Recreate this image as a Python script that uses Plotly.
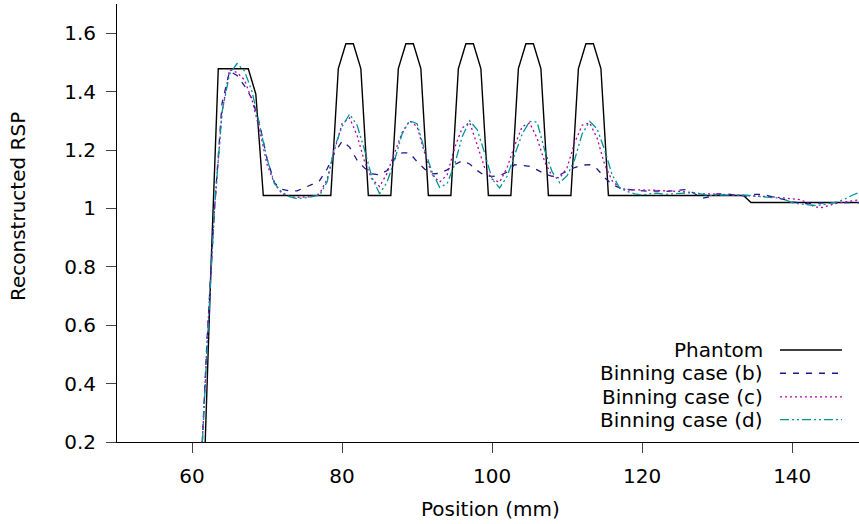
import plotly.graph_objects as go

# ---------------- data ----------------
x_phantom = [59.5, 60.5, 61.5, 62.5, 63.5, 64.5, 65.5, 66.5, 67.5, 68.5, 69.5,
             70.5, 71.5, 72.5, 73.5, 74.5, 75.5, 76.5, 77.5, 78.5, 79.5,
             80.5, 81.5, 82.5, 83.5, 84.5, 85.5, 86.5, 87.5, 88.5, 89.5,
             90.5, 91.5, 92.5, 93.5, 94.5, 95.5, 96.5, 97.5, 98.5, 99.5,
             100.5, 101.5, 102.5, 103.5, 104.5, 105.5, 106.5, 107.5, 108.5, 109.5,
             110.5, 111.5, 112.5, 113.5, 114.5, 115.5, 116.5, 117.5, 118.5, 119.5,
             120.5, 121.5, 122.5, 123.5, 124.5, 125.5, 126.5, 127.5, 128.5, 129.5,
             130.5, 131.5, 132.5, 133.5, 134.5, 135.5, 136.5, 137.5, 138.5, 139.5,
             140.5, 141.5, 142.5, 143.5, 144.5, 145.5, 146.5, 147.5, 148.5, 149.5]
phantom = [0.0, 0.0, 0.0, 0.78, 1.478, 1.478, 1.478, 1.478, 1.478, 1.392, 1.044,
           1.044, 1.044, 1.044, 1.044, 1.044, 1.044, 1.044, 1.044, 1.044, 1.479,
           1.564, 1.564, 1.479, 1.044, 1.044, 1.044, 1.044, 1.479, 1.564, 1.564,
           1.479, 1.044, 1.044, 1.044, 1.044, 1.479, 1.564, 1.564, 1.479, 1.044,
           1.044, 1.044, 1.044, 1.479, 1.564, 1.564, 1.479, 1.044, 1.044, 1.044,
           1.044, 1.479, 1.564, 1.564, 1.479, 1.044, 1.044, 1.044, 1.044, 1.044,
           1.044, 1.044, 1.044, 1.044, 1.044, 1.044, 1.044, 1.044, 1.044, 1.044,
           1.044, 1.044, 1.044, 1.044, 1.02, 1.02, 1.02, 1.02, 1.02, 1.02,
           1.02, 1.02, 1.02, 1.02, 1.02, 1.02, 1.02, 1.02, 1.02, 1.02]

x_recon = list(range(60, 150))
binning_b = [0.0, 0.0, 0.55, 1.0, 1.36, 1.47, 1.455, 1.42, 1.375, 1.29,
             1.17, 1.087, 1.065, 1.06, 1.06, 1.07, 1.082, 1.095, 1.135, 1.19,
             1.23, 1.21, 1.165, 1.138, 1.118, 1.115, 1.13, 1.17, 1.19, 1.19,
             1.16, 1.135, 1.118, 1.12, 1.132, 1.15, 1.163, 1.152, 1.13, 1.112,
             1.11, 1.112, 1.125, 1.15, 1.148, 1.144, 1.132, 1.118, 1.11, 1.115,
             1.128, 1.14, 1.148, 1.15, 1.135, 1.105, 1.082, 1.07, 1.065, 1.062,
             1.06, 1.058, 1.06, 1.058, 1.06, 1.062, 1.065, 1.05, 1.035, 1.04,
             1.05, 1.05, 1.047, 1.045, 1.042, 1.048, 1.048, 1.042, 1.037, 1.03,
             1.022, 1.018, 1.016, 1.018, 1.02, 1.02, 1.02, 1.02, 1.02, 1.02]
binning_c = [0.0, 0.0, 0.54, 1.0, 1.33, 1.475, 1.465, 1.44, 1.37, 1.27,
             1.15, 1.085, 1.05, 1.04, 1.038, 1.04, 1.04, 1.05, 1.10, 1.20,
             1.29, 1.31, 1.25, 1.16, 1.10, 1.075, 1.12, 1.19, 1.26, 1.30,
             1.28, 1.19, 1.115, 1.09, 1.115, 1.207, 1.275, 1.295, 1.22, 1.14,
             1.10, 1.09, 1.14, 1.215, 1.28, 1.293, 1.24, 1.16, 1.11, 1.104,
             1.14, 1.225, 1.285, 1.293, 1.24, 1.15, 1.095, 1.07, 1.064, 1.064,
             1.064, 1.064, 1.062, 1.06, 1.06, 1.058, 1.056, 1.053, 1.05, 1.05,
             1.049, 1.047, 1.046, 1.044, 1.044, 1.043, 1.042, 1.04, 1.038, 1.036,
             1.034, 1.03, 1.02, 1.005, 1.003, 1.01, 1.018, 1.022, 1.026, 1.03]
binning_d = [0.0, 0.0, 0.52, 1.0, 1.33, 1.46, 1.496, 1.47, 1.40, 1.29,
             1.17, 1.085, 1.055, 1.04, 1.033, 1.036, 1.04, 1.045, 1.09, 1.21,
             1.28, 1.323, 1.285, 1.20, 1.105, 1.05, 1.09, 1.165, 1.255, 1.30,
             1.29, 1.20, 1.125, 1.072, 1.085, 1.15, 1.245, 1.30, 1.27, 1.19,
             1.10, 1.07, 1.11, 1.18, 1.255, 1.298, 1.295, 1.20, 1.125, 1.088,
             1.112, 1.167, 1.255, 1.298, 1.272, 1.20, 1.115, 1.07, 1.058, 1.05,
             1.046, 1.05, 1.052, 1.048, 1.05, 1.052, 1.053, 1.053, 1.048, 1.044,
             1.046, 1.046, 1.045, 1.044, 1.045, 1.042, 1.04, 1.038, 1.036, 1.03,
             1.02, 1.015, 1.012, 1.01, 1.012, 1.016, 1.022, 1.032, 1.045, 1.055]

y_tickvals = [0.2, 0.4, 0.6, 0.8, 1.0, 1.2, 1.4, 1.6]
y_ticktext = ["0.2", "0.4", "0.6", "0.8", "1", "1.2", "1.4", "1.6"]
x_tickvals = [60, 80, 100, 120, 140]
x_ticktext = ["60", "80", "100", "120", "140"]

series_names = ["Phantom", "Binning case (b)", "Binning case (c)", "Binning case (d)"]
series_colors = ["#000000", "#1a1a8c", "#b000b0", "#009494"]
series_dash = ["solid", "6px,7px", "2px,3px", "9px,3px,2px,3px,2px,3px"]

# ---------------- figure ----------------
FONT = "DejaVu Sans"
FS = 20
fig = go.Figure()
data_sets = [(x_phantom, phantom), (x_recon, binning_b), (x_recon, binning_c), (x_recon, binning_d)]
for (xs, ys), name, col, dash in zip(data_sets, series_names, series_colors, series_dash):
    fig.add_trace(go.Scatter(x=xs, y=ys, mode="lines", name=name,
                             line=dict(color=col, width=1.4 if name == "Phantom" else 1.3, dash=dash),
                             showlegend=False))

# legend drawn gnuplot-style: text right-aligned, sample to the right
legend_y = [0.210, 0.157, 0.103, 0.051]
for name, col, dash, ly in zip(series_names, series_colors, series_dash, legend_y):
    fig.add_annotation(xref="paper", yref="paper", x=0.8735, y=ly, text=name,
                       showarrow=False, xanchor="right", yanchor="middle",
                       font=dict(family=FONT, size=FS, color="#000"))
    fig.add_shape(type="line", xref="paper", yref="paper", x0=0.8935, x1=0.977, y0=ly, y1=ly,
                  line=dict(color=col, width=1.4, dash=dash))

fig.add_annotation(xref="paper", yref="paper", x=-0.1334, y=0.5365, text="Reconstructed RSP",
                   textangle=-90, showarrow=False, xanchor="center", yanchor="middle",
                   font=dict(family=FONT, size=FS, color="#000"))
fig.add_annotation(xref="paper", yref="paper", x=0.504, y=-0.153, text="Position (mm)",
                   showarrow=False, xanchor="center", yanchor="middle",
                   font=dict(family=FONT, size=FS, color="#000"))

fig.update_layout(
    width=859, height=524,
    margin=dict(l=117, r=0, t=4, b=82),
    paper_bgcolor="white", plot_bgcolor="white",
    font=dict(family=FONT, size=FS, color="#000"),
    showlegend=False,
)
fig.update_xaxes(range=[50, 148.9], tickvals=x_tickvals, ticktext=x_ticktext,
                 showline=True, linecolor="#000", linewidth=1, mirror=False,
                 ticks="outside", ticklen=10, tickcolor="#444", tickwidth=1,
                 showgrid=False, zeroline=False, ticklabelstandoff=6)
fig.update_yaxes(range=[0.2, 1.7], tickvals=y_tickvals, ticktext=y_ticktext,
                 showline=True, linecolor="#000", linewidth=1, mirror=False,
                 ticks="outside", ticklen=10, tickcolor="#444", tickwidth=1,
                 showgrid=False, zeroline=False, ticklabelstandoff=6)

fig.write_html("out.html", config={"displayModeBar": False},
               post_script="document.body.style.margin='0';")
